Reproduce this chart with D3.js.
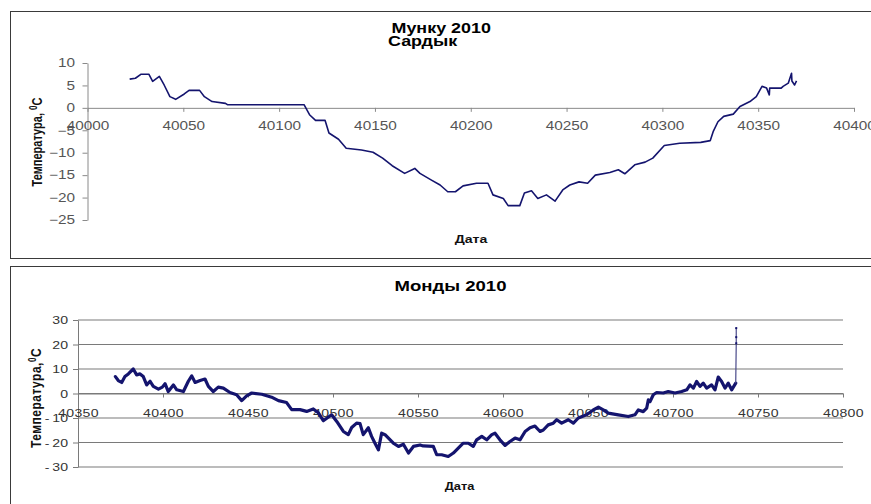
<!DOCTYPE html>
<html>
<head>
<meta charset="utf-8">
<script src="https://cdn.jsdelivr.net/npm/d3@7"></script>
<style>
  html, body { margin: 0; padding: 0; background: #fff; }
  svg { display: block; font-family: "Liberation Sans", Arial, sans-serif; }
</style>
</head>
<body>
<svg id="chart" width="871" height="504"></svg>
<script>
// ---------- Data: Мунку Сардык 2010 ----------
const topTitle1 = "Мунку 2010";
const topTitle2 = "Сардык";
const topXTicks = [40000, 40050, 40100, 40150, 40200, 40250, 40300, 40350, 40400];
const topYTicks = [10, 5, 0, -5, -10, -15, -20, -25];
const munkuDays = [
  40022, 40025, 40028, 40032, 40034, 40037.5, 40040, 40043, 40046, 40050.5,
  40053, 40058.5, 40061, 40065, 40072, 40073, 40113, 40116, 40119, 40124,
  40126, 40131, 40135, 40143, 40149, 40154, 40159, 40165.5, 40170.8, 40173.5,
  40179.5, 40184, 40188, 40192, 40196, 40203, 40209, 40211.6, 40217, 40219.5,
  40225.6, 40228, 40231.7, 40235, 40239.5, 40244, 40248, 40251.7, 40256.5, 40261,
  40265, 40272.6, 40277, 40280.4, 40285.6, 40291, 40295, 40301, 40309, 40320,
  40325, 40326.5, 40329, 40332, 40337, 40340.5, 40345.7, 40349, 40352, 40354.4,
  40355.8, 40356, 40362, 40363, 40365.7, 40367.4, 40367.6, 40369, 40370
];
const munkuTemps = [
  6.4, 6.6, 7.5, 7.5, 5.9, 7.0, 5.1, 2.5, 1.9, 3.1,
  3.9, 3.9, 2.5, 1.4, 1.0, 0.7, 0.7, -1.6, -2.8, -2.8,
  -5.6, -7.0, -9.0, -9.4, -9.9, -11.2, -12.9, -14.6, -13.5, -14.6,
  -16.1, -17.2, -18.7, -18.7, -17.4, -16.8, -16.8, -19.4, -20.2, -21.8,
  -21.8, -19.0, -18.5, -20.2, -19.4, -20.8, -18.3, -17.2, -16.5, -16.8,
  -15.0, -14.4, -13.8, -14.7, -12.7, -12.1, -11.2, -8.4, -7.9, -7.7,
  -7.3, -5.3, -3.1, -1.9, -1.4, 0.3, 1.4, 2.5, 4.8, 4.4,
  2.9, 4.4, 4.4, 4.8, 5.5, 7.7, 6.0, 5.1, 6.0
];

// ---------- Data: Монды 2010 ----------
const botTitle = "Монды 2010";
const botXTicks = [40350, 40400, 40450, 40500, 40550, 40600, 40650, 40700, 40750, 40800];
const botYTicks = [30, 20, 10, 0, -10, -20, -30];
const mondyDays = [
  40372, 40373.7, 40375.7, 40377.6, 40379.6, 40382.5, 40384.5, 40386.5, 40388.4, 40390.4,
  40392.4, 40394.3, 40397.3, 40399.6, 40401.2, 40403.1, 40406.1, 40408.1, 40412, 40414.9,
  40416.9, 40418.9, 40421.8, 40424.7, 40426.7, 40429.6, 40432.5, 40435.5, 40439.4, 40443.3,
  40446.3, 40449.2, 40452.2, 40458.1, 40463.9, 40467.9, 40472.7, 40475.7, 40480.6, 40484.5,
  40488.4, 40491.4, 40494.3, 40499.2, 40502.2, 40506.1, 40509, 40511, 40513.9, 40515.9,
  40517.8, 40520.8, 40522.7, 40524.7, 40526.7, 40528.6, 40530.6, 40535.5, 40538.5, 40541.4,
  40544.4, 40547.3, 40551.2, 40553.1, 40559, 40561, 40563.9, 40567.8, 40570.8, 40573.7,
  40576.6, 40579.6, 40582.5, 40584.5, 40587.5, 40590.4, 40593.4, 40595.3, 40598.2, 40601.2,
  40604.1, 40607.1, 40610, 40613, 40615.9, 40618.8, 40621.8, 40623.7, 40626.6, 40629.6,
  40631.6, 40634.5, 40638.4, 40641.4, 40644.3, 40649.2, 40653.1, 40656.1, 40659, 40661.9,
  40667.8, 40673.7, 40677.6, 40679.6, 40682.5, 40684.5, 40685.5, 40686.5, 40688.4, 40690.4,
  40694.3, 40697.2, 40701.2, 40705.1, 40708.1, 40710, 40712, 40713.9, 40715.9, 40717.8,
  40719.8, 40722.7, 40724.7, 40726.6, 40728.6, 40730.6, 40732.5, 40734.5, 40736.9,
  40737.2, 40737.2, 40737.2
];
const mondyTemps = [
  6.9, 5.3, 4.5, 6.9, 8.0, 10.0, 7.6, 8.0, 6.9, 3.5,
  5.0, 2.9, 1.8, 2.6, 4.0, 0.8, 3.5, 1.5, 0.8, 5.0,
  7.2, 4.5, 5.3, 5.9, 2.9, 0.8, 2.6, 2.2, 0.4, -0.5,
  -2.9, -1.0, 0.2, -0.3, -1.5, -2.9, -3.7, -6.6, -6.6, -7.3,
  -6.3, -7.9, -11.1, -8.7, -11.4, -15.5, -16.8, -13.9, -12.1, -12.3,
  -16.8, -14.0, -17.5, -20.3, -23.0, -16.2, -16.8, -20.3, -21.6, -20.7,
  -24.3, -21.6, -21.0, -21.4, -21.6, -25.0, -25.0, -25.7, -24.3, -22.3,
  -20.3, -20.3, -21.6, -18.9, -17.5, -18.9, -16.8, -16.2, -18.9, -21.2,
  -19.6, -18.2, -18.9, -15.5, -14.0, -13.3, -15.5, -14.9, -12.8, -12.1,
  -10.7, -12.1, -10.7, -12.1, -10.0, -8.7, -6.7, -5.6, -6.7, -8.0,
  -8.7, -9.4, -8.7, -6.7, -7.4, -6.0, -2.6, -3.3, -0.5, 0.4,
  0.2, 0.8, 0.2, 0.8, 1.5, 3.5, 2.2, 4.9, 2.9, 4.2,
  2.2, 3.5, 1.5, 6.7, 4.9, 2.2, 4.2, 1.5, 4.2,
  20.5, 23.0, 26.7
];
const xLabel = "Дата";
const yLabel = "Температура,";

// ---------- Drawing ----------
const SX = 1.28; // horizontal stretch of the original picture
const svg = d3.select("#chart");
const lineColor = "#14146e";

function stretchedText(x, y, str, size, weight, anchor, fill) {
  return svg.append("text")
    .attr("transform", `translate(${x},${y}) scale(${SX},1)`)
    .attr("text-anchor", anchor)
    .attr("font-size", size)
    .attr("font-weight", weight)
    .attr("fill", fill)
    .text(str);
}

// Chart frames
svg.append("rect").attr("x", 10.5).attr("y", 11.5).attr("width", 880).attr("height", 247)
  .attr("fill", "none").attr("stroke", "#3a3a3a").attr("stroke-width", 1);
svg.append("rect").attr("x", 10.5).attr("y", 266.5).attr("width", 880).attr("height", 260)
  .attr("fill", "none").attr("stroke", "#3a3a3a").attr("stroke-width", 1);

// ===== Top chart =====
const xT = d3.scaleLinear().domain([40000, 40400]).range([87.5, 854]);
const yT = d3.scaleLinear().domain([-25, 10]).range([220, 63]);

const gyT = svg.append("g").attr("transform", `translate(${xT(40000)},0)`)
  .call(d3.axisLeft(yT).tickValues(topYTicks).tickSize(5).tickSizeOuter(0).tickPadding(7));
gyT.select(".domain").attr("stroke", "#8a8a8a");
gyT.selectAll(".tick line").attr("stroke", "#8a8a8a");
gyT.selectAll(".tick text").attr("x", -12.5 / SX).attr("transform", `scale(${SX},1)`)
  .attr("font-size", 12).attr("fill", "#555").attr("font-family", "Liberation Sans, Arial, sans-serif");

const gxT = svg.append("g").attr("transform", `translate(0,${yT(0)})`)
  .call(d3.axisBottom(xT).tickValues(topXTicks).tickSize(4).tickSizeOuter(0).tickPadding(10).tickFormat(d3.format("d")));
gxT.select(".domain").attr("stroke", "#8a8a8a");
gxT.selectAll(".tick line").attr("stroke", "#8a8a8a");
gxT.selectAll(".tick text").attr("transform", `scale(${SX},1)`)
  .attr("font-size", 12).attr("fill", "#555").attr("font-family", "Liberation Sans, Arial, sans-serif");

const topData = munkuDays.map((d, i) => [d, munkuTemps[i]]);
svg.append("path").datum(topData)
  .attr("fill", "none").attr("stroke", lineColor).attr("stroke-width", 1.6)
  .attr("stroke-linejoin", "round")
  .attr("d", d3.line().x(d => xT(d[0])).y(d => yT(d[1])));

stretchedText(391.5, 33, topTitle1, 14, "bold", "start", "#000");
stretchedText(388, 45.5, topTitle2, 14, "bold", "start", "#000");
stretchedText(471, 243, xLabel, 11, "bold", "middle", "#111");

const ylT = svg.append("text")
  .attr("transform", `translate(42,142) scale(${SX},1) rotate(-90)`)
  .attr("text-anchor", "middle").attr("font-size", 11).attr("font-weight", "bold").attr("fill", "#111");
ylT.append("tspan").text(yLabel + " ");
ylT.append("tspan").attr("dy", -4).attr("font-size", 8).text("0");
ylT.append("tspan").attr("dy", 4).text("C");

// ===== Bottom chart =====
const xB = d3.scaleLinear().domain([40350, 40800]).range([78, 843]);
const yB = d3.scaleLinear().domain([-30, 30]).range([467, 320]);

svg.append("g").selectAll("line").data(botYTicks).join("line")
  .attr("x1", xB(40350)).attr("x2", xB(40800))
  .attr("y1", d => yB(d)).attr("y2", d => yB(d))
  .attr("stroke", "#7a7a7a").attr("stroke-width", 1.2);

const gyB = svg.append("g").attr("transform", `translate(${xB(40350)},0)`)
  .call(d3.axisLeft(yB).tickValues(botYTicks).tickSize(5).tickSizeOuter(0).tickPadding(5)
    .tickFormat(d => d < 0 ? "-\u2009" + Math.abs(d) : String(d)));
gyB.select(".domain").attr("stroke", "#7a7a7a");
gyB.selectAll(".tick line").attr("stroke", "#7a7a7a");
gyB.selectAll(".tick text").attr("x", -10 / SX).attr("transform", `scale(${SX},1)`)
  .attr("font-size", 11).attr("fill", "#333").attr("font-family", "Liberation Sans, Arial, sans-serif");

const gxB = svg.append("g").attr("transform", `translate(0,${yB(0)})`)
  .call(d3.axisBottom(xB).tickValues(botXTicks).tickSize(4).tickSizeOuter(0).tickPadding(12).tickFormat(d3.format("d")));
gxB.select(".domain").attr("stroke", "#7a7a7a");
gxB.selectAll(".tick line").attr("stroke", "#7a7a7a");
gxB.selectAll(".tick text").attr("transform", `scale(${SX},1)`)
  .attr("font-size", 11).attr("fill", "#333").attr("letter-spacing", 0.3)
  .attr("font-family", "Liberation Sans, Arial, sans-serif");

const botData = mondyDays.map((d, i) => [d, mondyTemps[i]]);
const nMain = botData.length - 3;
const lineB = d3.line().x(d => xB(d[0])).y(d => yB(d[1]));
svg.append("path").datum(botData.slice(0, nMain))
  .attr("fill", "none").attr("stroke", lineColor).attr("stroke-width", 3.2)
  .attr("stroke-linejoin", "round").attr("stroke-linecap", "round")
  .attr("d", lineB);
svg.append("path").datum(botData.slice(nMain - 1))
  .attr("fill", "none").attr("stroke", "#4a4a8a").attr("stroke-width", 1.2)
  .attr("d", lineB);
svg.append("g").selectAll("rect").data(botData.slice(nMain)).join("rect")
  .attr("x", d => xB(d[0]) - 1).attr("y", d => yB(d[1]) - 1)
  .attr("width", 2).attr("height", 2).attr("fill", lineColor);

stretchedText(394.5, 291, botTitle, 14.5, "bold", "start", "#000");
stretchedText(459.5, 490, xLabel, 10, "bold", "middle", "#111");

const ylB = svg.append("text")
  .attr("transform", `translate(41,398) scale(${SX},1) rotate(-90)`)
  .attr("text-anchor", "middle").attr("font-size", 12).attr("font-weight", "bold")
  .attr("letter-spacing", 0.5).attr("fill", "#111");
ylB.append("tspan").text(yLabel);
ylB.append("tspan").attr("dy", -4).attr("font-size", 8).text("0");
ylB.append("tspan").attr("dy", 4).text("C");
</script>
</body>
</html>
